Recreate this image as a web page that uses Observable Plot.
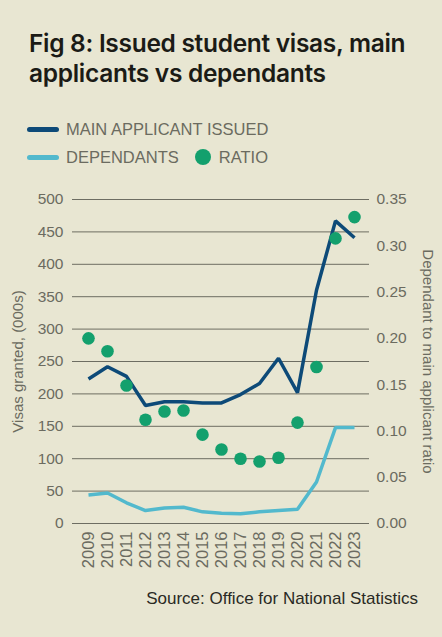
<!DOCTYPE html>
<html>
<head>
<meta charset="utf-8">
<script src="https://cdn.jsdelivr.net/npm/d3@7"></script>
<script src="https://cdn.jsdelivr.net/npm/@observablehq/plot@0.6"></script>
<style>
  html, body { margin: 0; padding: 0; }
  body { width: 442px; height: 637px; background: #e8e6d2; position: relative; overflow: hidden; font-family: "Liberation Sans", Arial, sans-serif; }
  #title { position: absolute; left: 29px; top: 28px; font: 600 24.5px/30px Inter, sans-serif; color: #1b1b16; letter-spacing: -0.3px; }
  #legend { position: absolute; left: 27px; top: 115px; font-size: 16.5px; color: #6b6b60; }
  .row { display: flex; align-items: center; height: 28px; }
  .sw { width: 32px; height: 5px; border-radius: 3px; margin-right: 7px; }
  .dot { width: 16px; height: 16px; border-radius: 50%; margin: 0 8px 0 16px; }
  #chart { position: absolute; left: 0; top: 185px; }
  #source { position: absolute; right: 24px; top: 589px; font-size: 17px; color: #2a2a24; }
</style>
</head>
<body>
<div id="title">Fig 8: Issued student visas, main<br>applicants vs dependants</div>
<div id="legend">
  <div class="row"><div class="sw" style="background:#0d4a78"></div>MAIN APPLICANT ISSUED</div>
  <div class="row"><div class="sw" style="background:#52b9cd"></div>DEPENDANTS<div class="dot" style="background:#13a06d"></div>RATIO</div>
</div>
<div id="chart"></div>
<div id="source">Source: Office for National Statistics</div>
<script>
// values (thousands of visas, ratio)
const years = [2009, 2010, 2011, 2012, 2013, 2014, 2015, 2016, 2017, 2018, 2019, 2020, 2021, 2022, 2023];
const mainApplicants = [223, 242, 227, 182, 188, 188, 186, 186, 199, 216, 255, 202, 360, 467, 441];
const dependants = [44, 47, 32, 20, 24, 25, 18, 16, 15, 18, 20, 22, 64, 148, 148];
const ratio = [0.200, 0.186, 0.149, 0.112, 0.121, 0.122, 0.096, 0.080, 0.070, 0.067, 0.071, 0.109, 0.169, 0.308, 0.331];
const leftTicks = [0, 50, 100, 150, 200, 250, 300, 350, 400, 450, 500];
const ratioTicks = [0, 0.05, 0.10, 0.15, 0.20, 0.25, 0.30, 0.35];

const rMax = 0.35, yMax = 500;
const toY = r => r * yMax / rMax;

const data = years.map((y, i) => ({year: y, main: mainApplicants[i], dep: dependants[i], ratio: ratio[i]}));

const axisColor = "#6b6b60";

let chart = Plot.plot({
  width: 442,
  height: 400,
  marginLeft: 72,
  marginRight: 73,
  marginTop: 14,
  marginBottom: 62,
  style: {background: "transparent", fontSize: "15.5px", fontFamily: "'Liberation Sans', Arial, sans-serif", color: axisColor},
  x: {type: "point", domain: years, padding: 0.6},
  y: {domain: [0, yMax]},
  marks: [
    Plot.gridY(leftTicks, {stroke: "#6d6d62", strokeOpacity: 1, strokeWidth: 1}),
    Plot.axisY(leftTicks, {anchor: "left", tickSize: 0, tickPadding: 9, label: null}),
    Plot.axisY(ratioTicks.map(toY), {anchor: "right", tickSize: 0, tickPadding: 7, label: null,
      tickFormat: d => (d * rMax / yMax).toFixed(2)}),
    Plot.axisX(years, {tickSize: 0, tickPadding: 8, tickRotate: -90, label: null, fontSize: 16.5, tickFormat: d => String(d)}),
    Plot.text(["Visas granted, (000s)"], {frameAnchor: "left", textAnchor: "middle", dx: -54, rotate: -90, fill: axisColor, fontSize: 15}),
    Plot.text(["Dependant to main applicant ratio"], {frameAnchor: "right", textAnchor: "middle", dx: 58, rotate: 90, fill: axisColor, fontSize: 15}),
    Plot.line(data, {x: "year", y: "dep", stroke: "#52b9cd", strokeWidth: 3.5, strokeLinecap: "butt", strokeLinejoin: "miter"}),
    Plot.line(data, {x: "year", y: "main", stroke: "#0d4a78", strokeWidth: 3.5, strokeLinecap: "butt", strokeLinejoin: "miter"}),
    Plot.dot(data, {x: "year", y: d => toY(d.ratio), r: 6.3, fill: "#13a06d"})
  ]
});

d3.select('#chart').append(() => chart);
</script>
</body>
</html>
